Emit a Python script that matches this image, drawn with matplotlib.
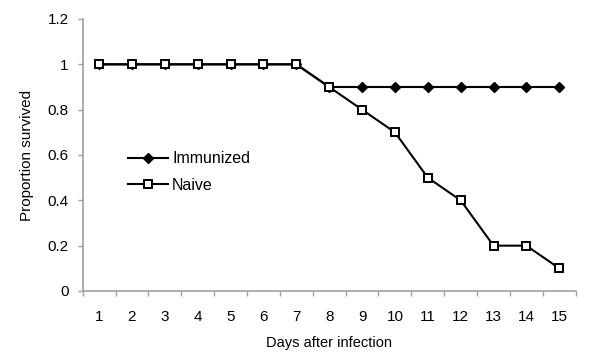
import numpy as np
import matplotlib
matplotlib.use('Agg')
import matplotlib.pyplot as plt

days = list(range(1, 16))
immunized = [1, 1, 1, 1, 1, 1, 1, 0.9, 0.9, 0.9, 0.9, 0.9, 0.9, 0.9, 0.9]
naive = [1, 1, 1, 1, 1, 1, 1, 0.9, 0.8, 0.7, 0.5, 0.4, 0.2, 0.2, 0.1]
yticks = [0, 0.2, 0.4, 0.6, 0.8, 1, 1.2]
ytick_labels = ['0', '0.2', '0.4', '0.6', '0.8', '1', '1.2']

plt.rcParams['font.family'] = ['Liberation Sans', 'DejaVu Sans']

fig = plt.figure(figsize=(6.0, 3.57), dpi=100)
ax = fig.add_axes([0.1378, 0.1849, 0.8217, 0.7619])

axis_gray = '#a0a0a0'

ax.plot(days, immunized, color='black', linewidth=1.5, marker='D',
        markersize=5, markerfacecolor='black', markeredgecolor='black',
        label='Immunized', zorder=3)
ax.plot(days, naive, color='black', linewidth=1.5, marker='s',
        markersize=6, markerfacecolor='white', markeredgecolor='black',
        markeredgewidth=1.4, label='Naive', zorder=3)

ax.set_xlim(0.5, 15.5)
ax.set_ylim(0, 1.2)

# category boundaries get the tick marks, labels sit in the middle
ax.set_xticks(np.arange(0.5, 16.0, 1.0))
ax.set_xticklabels([])
ax.set_xticks(days, minor=True)
ax.set_xticklabels([str(d) for d in days], minor=True, fontsize=11)
ax.tick_params(axis='x', which='major', direction='out', length=3.8,
               color=axis_gray, width=1)
ax.tick_params(axis='x', which='minor', length=0, pad=14)

ax.set_yticks(yticks)
ax.set_yticklabels(ytick_labels, fontsize=11)
ax.tick_params(axis='y', direction='out', length=3.6, color=axis_gray,
               width=1, pad=6.5)

for side in ['top', 'right']:
    ax.spines[side].set_visible(False)
for side in ['left', 'bottom']:
    ax.spines[side].set_color(axis_gray)
    ax.spines[side].set_linewidth(1.2)

ax.set_xlabel('Days after infection', fontsize=10.5, labelpad=8.5)
ax.set_ylabel('Proportion survived', fontsize=11, labelpad=10)

ax.legend(loc='center left', bbox_to_anchor=(0.0925, 0.4375), frameon=False,
          fontsize=11.5, handlelength=2.5, handletextpad=0.25,
          labelspacing=0.71, borderpad=0, borderaxespad=0)

fig.savefig('out.png', dpi=100)
